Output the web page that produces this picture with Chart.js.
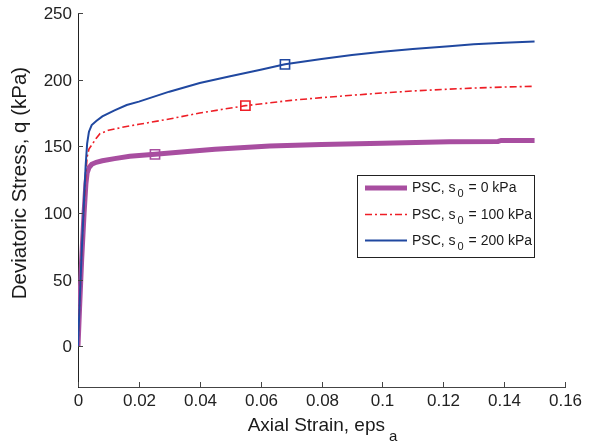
<!DOCTYPE html>
<html>
<head>
<meta charset="utf-8">
<script src="https://cdn.jsdelivr.net/npm/chart.js@4/dist/chart.umd.min.js"></script>
<style>
  html, body { margin: 0; padding: 0; background: #fff; }
  canvas { display: block; }
</style>
</head>
<body>
<canvas id="c" width="592" height="445"></canvas>
<script>
// Axial strain (eps_a) and deviatoric stress q (kPa) for three suction levels
const strain0   = [0, 0.0005, 0.0012, 0.002, 0.0026, 0.003, 0.0036, 0.0045, 0.006, 0.008, 0.012, 0.017, 0.0253, 0.035, 0.045, 0.063, 0.08, 0.1, 0.122, 0.138, 0.139, 0.15];
const dev0      = [0, 28, 65, 100, 122, 130, 134, 136.5, 138, 139.2, 140.8, 142.5, 144, 146, 147.8, 150.2, 151.3, 152.4, 153.5, 153.7, 154.4, 154.4];

const strain100 = [0, 0.0005, 0.0012, 0.002, 0.0026, 0.003, 0.0036, 0.0045, 0.006, 0.0072, 0.01, 0.015, 0.02, 0.03, 0.04, 0.055, 0.07, 0.08, 0.09, 0.1, 0.11, 0.122, 0.13, 0.14, 0.15];
const dev100    = [0, 30, 70, 105, 130, 142, 148, 151, 156, 159.5, 162, 164.5, 166.5, 170.5, 175, 180.5, 184.5, 186.5, 188.3, 190, 191.5, 192.9, 193.7, 194.5, 195];

const strain200 = [0, 0.0005, 0.0012, 0.0019, 0.0025, 0.003, 0.0036, 0.0045, 0.006, 0.008, 0.012, 0.016, 0.02, 0.03, 0.04, 0.05, 0.06, 0.068, 0.08, 0.09, 0.1, 0.11, 0.122, 0.13, 0.14, 0.15];
const dev200    = [0, 30, 70, 105, 135, 152, 161, 166, 169, 172.5, 177, 181, 183.5, 191, 197.5, 202.5, 207.5, 211.5, 215.5, 218.5, 221, 223, 225, 226.5, 227.7, 228.7];

// index of the point carrying the square marker on each curve
const markIdx0 = 12, markIdx100 = 15, markIdx200 = 17;

const seriesNames = ['0', '100', '200'];
const xTicks = [0, 0.02, 0.04, 0.06, 0.08, 0.1, 0.12, 0.14, 0.16];
const yTicks = [0, 50, 100, 150, 200, 250];

const FONT = '"Liberation Sans", Arial, Helvetica, sans-serif';
const PURPLE = 'rgb(168,78,160)';
const RED = 'rgb(238,30,38)';
const BLUE = 'rgb(32,72,160)';

function pts(xs, ys) { return xs.map((x, i) => ({ x, y: ys[i] })); }
function radii(n, k) { return Array.from({ length: n }, (_, i) => (i === k ? 6.5 : 0)); }

const styles = [
  { color: PURPLE, width: 5, dash: [] },
  { color: RED, width: 1.6, dash: [7, 3, 2, 3] },
  { color: BLUE, width: 2, dash: [] }
];

const datasets = [
  [strain0, dev0, markIdx0],
  [strain100, dev100, markIdx100],
  [strain200, dev200, markIdx200]
].map(([xs, ys, k], i) => ({
  label: 'PSC, s0 = ' + seriesNames[i] + ' kPa',
  data: pts(xs, ys),
  borderColor: styles[i].color,
  borderWidth: styles[i].width,
  borderDash: styles[i].dash,
  backgroundColor: 'rgba(0,0,0,0)',
  pointStyle: 'rect',
  pointRadius: radii(xs.length, k),
  pointBorderWidth: 1.6,
  pointBorderColor: styles[i].color,
  pointBackgroundColor: 'rgba(0,0,0,0)',
  tension: 0,
  order: 3 - i
}));

// Inward ticks, tick labels, axis titles and the legend box
const decorations = {
  id: 'decorations',
  afterDraw(chart) {
    const ctx = chart.ctx;
    const xs = chart.scales.x, ys = chart.scales.y;
    const a = chart.chartArea;
    ctx.save();
    ctx.strokeStyle = '#444';
    ctx.lineWidth = 1;
    ctx.fillStyle = '#222';
    ctx.font = '17px ' + FONT;

    // x ticks
    ctx.textAlign = 'center';
    ctx.textBaseline = 'top';
    xTicks.forEach(v => {
      const px = Math.round(xs.getPixelForValue(v)) + 0.5;
      ctx.beginPath();
      ctx.moveTo(px, a.bottom);
      ctx.lineTo(px, a.bottom - 5);
      ctx.stroke();
      ctx.fillText(String(v), px, a.bottom + 6);
    });

    // y ticks
    ctx.textAlign = 'right';
    ctx.textBaseline = 'middle';
    yTicks.forEach(v => {
      const py = Math.round(ys.getPixelForValue(v)) + 0.5;
      ctx.beginPath();
      ctx.moveTo(a.left, py);
      ctx.lineTo(a.left + 5, py);
      ctx.stroke();
      ctx.fillText(String(v), a.left - 6, py + 1);
    });

    // x title with subscript
    ctx.fillStyle = '#1a1a1a';
    ctx.textAlign = 'left';
    ctx.textBaseline = 'alphabetic';
    ctx.font = '19px ' + FONT;
    const xt = 'Axial Strain, eps';
    const xtW = ctx.measureText(xt).width;
    ctx.font = '15px ' + FONT;
    const subW = ctx.measureText('a').width;
    const x0 = (a.left + a.right) / 2 - (xtW + 4 + subW) / 2 + 1;
    ctx.font = '19px ' + FONT;
    ctx.fillText(xt, x0, 431);
    ctx.font = '15px ' + FONT;
    ctx.fillText('a', x0 + xtW + 4, 441);

    // y title
    ctx.save();
    ctx.translate(26, 183);
    ctx.rotate(-Math.PI / 2);
    ctx.textAlign = 'center';
    ctx.font = '20.5px ' + FONT;
    ctx.fillText('Deviatoric Stress, q (kPa)', 0, 0);
    ctx.restore();

    // legend
    const L = { x: 357, y: 175, w: 177, h: 82 };
    ctx.fillStyle = '#fff';
    ctx.fillRect(L.x, L.y, L.w, L.h);
    ctx.strokeStyle = '#222';
    ctx.lineWidth = 1;
    ctx.strokeRect(L.x + 0.5, L.y + 0.5, L.w, L.h);
    const rows = [188, 214.5, 240.5];
    chart.data.datasets.forEach((ds, i) => {
      const y = rows[i];
      ctx.strokeStyle = styles[i].color;
      ctx.lineWidth = styles[i].width;
      ctx.setLineDash(styles[i].dash);
      ctx.beginPath();
      ctx.moveTo(365, y);
      ctx.lineTo(407, y);
      ctx.stroke();
      ctx.setLineDash([]);
      ctx.fillStyle = '#1a1a1a';
      ctx.textBaseline = 'alphabetic';
      ctx.textAlign = 'left';
      ctx.font = '14px ' + FONT;
      let tx = 412;
      const yb = y + 4;
      ctx.fillText('PSC, s', tx, yb);
      tx += ctx.measureText('PSC, s').width + 2;
      ctx.font = '11px ' + FONT;
      ctx.fillText('0', tx, yb + 5);
      tx += ctx.measureText('0').width + 1;
      ctx.font = '14px ' + FONT;
      ctx.fillText(' = ' + seriesNames[i] + ' kPa', tx, yb);
    });
    ctx.restore();
  }
};

new Chart(document.getElementById('c'), {
  type: 'line',
  data: { datasets },
  options: {
    responsive: false,
    animation: false,
    events: [],
    layout: { padding: { left: 0, right: 27, top: 13, bottom: 0 } },
    plugins: { legend: { display: false }, tooltip: { enabled: false } },
    scales: {
      x: {
        type: 'linear', min: 0, max: 0.16,
        grid: { display: false },
        border: { display: true, color: '#444', width: 1 },
        ticks: { display: false },
        afterFit(s) { s.height = 58; }
      },
      y: {
        type: 'linear', min: -30.5, max: 250,
        grid: { display: false },
        border: { display: true, color: '#222', width: 1 },
        ticks: { display: false },
        afterFit(s) { s.width = 78; }
      }
    }
  },
  plugins: [decorations]
});
</script>
</body>
</html>
